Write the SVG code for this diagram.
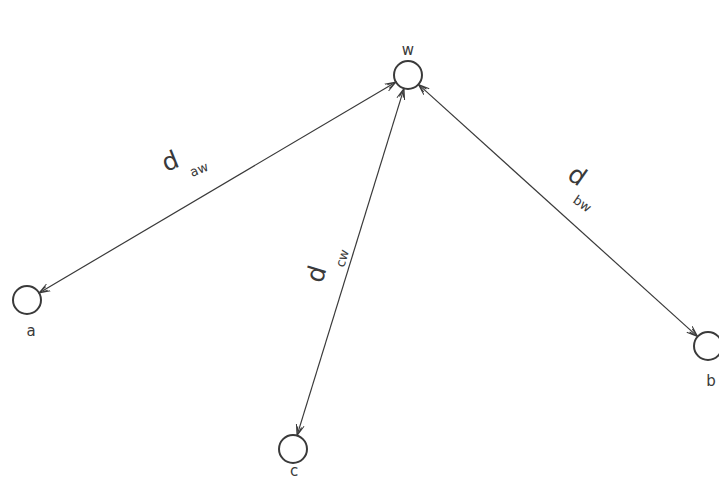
<svg xmlns="http://www.w3.org/2000/svg" width="719" height="495" viewBox="0 0 719 495">
<style>
.node{fill:none;stroke:#3a3a3a;stroke-width:2}
.edge{stroke:#3a3a3a;stroke-width:1.2;fill:none}
.lbl{font-family:"DejaVu Sans",sans-serif;fill:#3a3a3a}
.nl{font-size:15px;text-anchor:middle}
.d{font-size:25px}
.sub{font-size:13px}
</style>
<defs>
<marker id="arr" viewBox="0 0 12 10" refX="11" refY="5" markerWidth="12" markerHeight="10" markerUnits="userSpaceOnUse" orient="auto-start-reverse">
<path d="M0,1 L11,5 L0,9 M2,3 L11,5 L2,7" fill="none" stroke="#3a3a3a" stroke-width="1"/>
</marker>
</defs>
<rect width="719" height="495" fill="#ffffff"/>
<g id="connectors">
<line class="edge" x1="396" y1="82" x2="39" y2="293" marker-start="url(#arr)" marker-end="url(#arr)"/>
<line class="edge" x1="404" y1="88.4" x2="297" y2="435.6" marker-start="url(#arr)" marker-end="url(#arr)"/>
<line class="edge" x1="418.4" y1="84.4" x2="697.6" y2="336.6" marker-start="url(#arr)" marker-end="url(#arr)"/>
</g>
<g id="label-aw" class="lbl">
<text class="d" x="166" y="172" transform="rotate(-22 166 172)">d</text>
<text class="sub" x="192" y="177" transform="rotate(-22 192 177)">aw</text>
</g>
<g id="label-cw" class="lbl">
<text class="d" x="322" y="284" transform="rotate(-73 322 284)">d</text>
<text class="sub" x="344" y="268" transform="rotate(-73 344 268)">cw</text>
</g>
<g id="label-bw" class="lbl">
<text class="d" x="566" y="178" transform="rotate(35 566 178)">d</text>
<text class="sub" x="572" y="202" transform="rotate(35 572 202)">bw</text>
</g>
<g id="node-w">
<circle class="node" cx="408" cy="75" r="14"/>
<text class="lbl nl" x="408" y="55">w</text>
</g>
<g id="node-a">
<circle class="node" cx="27" cy="300" r="14"/>
<text class="lbl nl" x="31" y="336">a</text>
</g>
<g id="node-b">
<circle class="node" cx="708" cy="346" r="14"/>
<text class="lbl nl" x="711" y="386">b</text>
</g>
<g id="node-c">
<circle class="node" cx="293" cy="449" r="14"/>
<text class="lbl nl" x="294" y="476">c</text>
</g>
</svg>
